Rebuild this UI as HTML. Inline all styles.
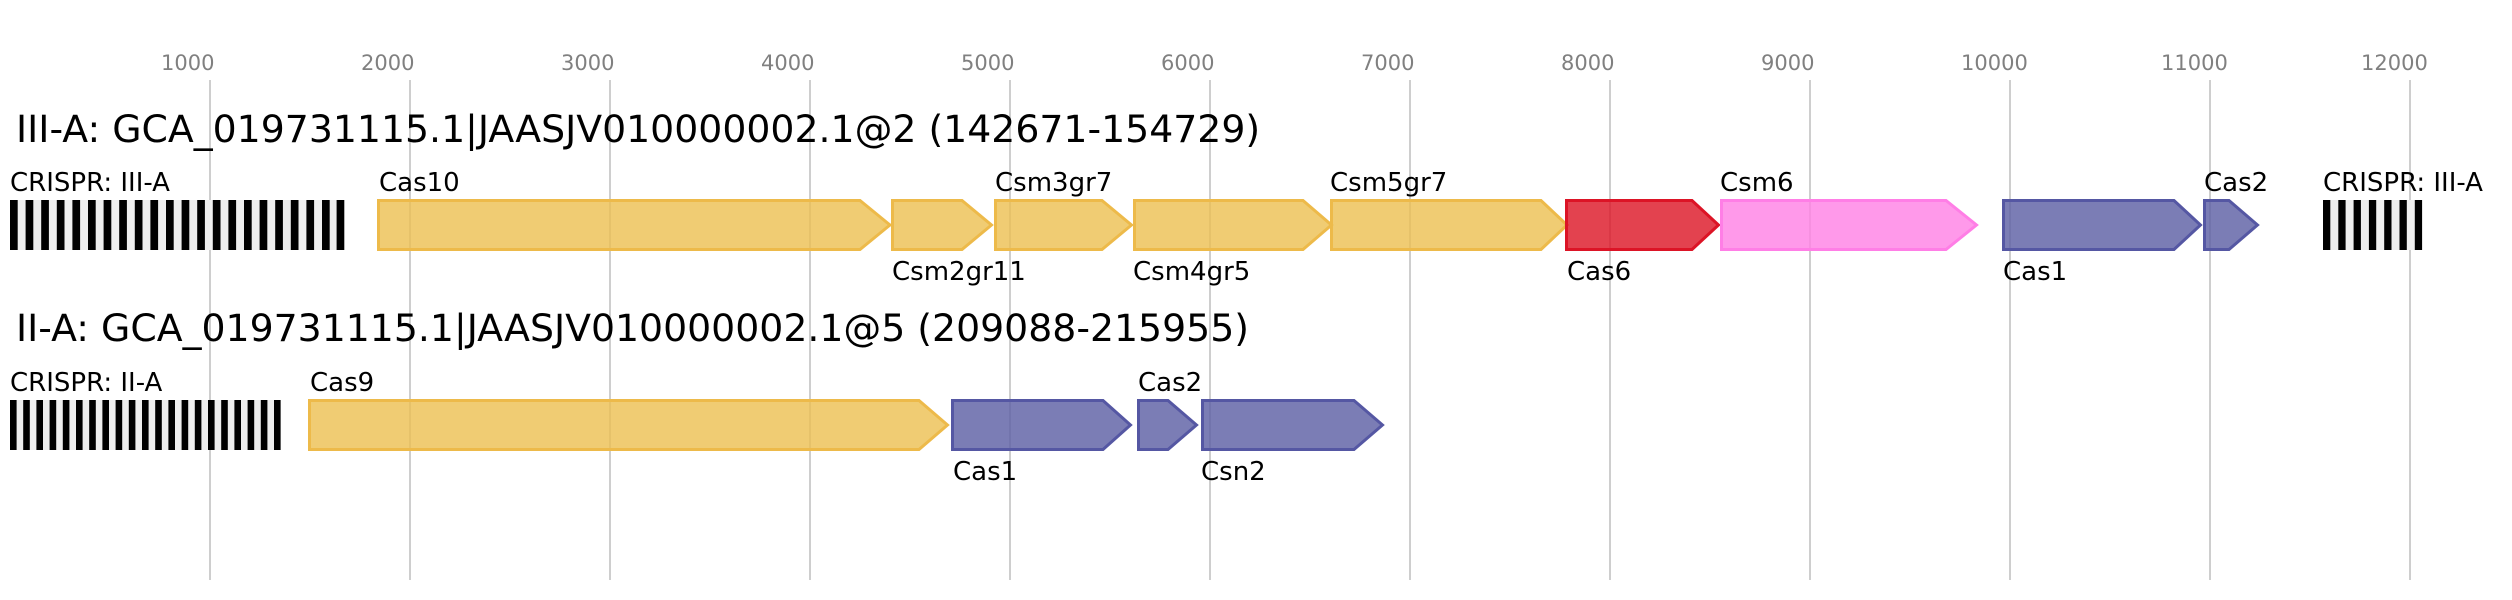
<!DOCTYPE html>
<html><head><meta charset="utf-8"><style>html,body{margin:0;padding:0;background:#fff}svg{display:block}</style></head><body>
<svg width="2512" height="600" viewBox="0 0 2512 600" xmlns="http://www.w3.org/2000/svg" font-family="DejaVu Sans, Liberation Sans, sans-serif">
<g stroke="#bdbdbd" stroke-width="1.5">
<line x1="210" y1="80" x2="210" y2="580"/><line x1="410" y1="80" x2="410" y2="580"/><line x1="610" y1="80" x2="610" y2="580"/><line x1="810" y1="80" x2="810" y2="580"/><line x1="1010" y1="80" x2="1010" y2="580"/><line x1="1210" y1="80" x2="1210" y2="580"/><line x1="1410" y1="80" x2="1410" y2="580"/><line x1="1610" y1="80" x2="1610" y2="580"/><line x1="1810" y1="80" x2="1810" y2="580"/><line x1="2010" y1="80" x2="2010" y2="580"/><line x1="2210" y1="80" x2="2210" y2="580"/><line x1="2410" y1="80" x2="2410" y2="580"/>
</g>
<g fill="#808080" font-size="21">
<text x="161" y="70">1000</text><text x="361" y="70">2000</text><text x="561" y="70">3000</text><text x="761" y="70">4000</text><text x="961" y="70">5000</text><text x="1161" y="70">6000</text><text x="1361" y="70">7000</text><text x="1561" y="70">8000</text><text x="1761" y="70">9000</text><text x="1961" y="70">10000</text><text x="2161" y="70">11000</text><text x="2361" y="70">12000</text>
</g>
<g fill="#000" font-size="37.8">
<text x="16" y="142">III-A: GCA_019731115.1|JAASJV010000002.1@2 (142671-154729)</text>
<text x="16" y="341">II-A: GCA_019731115.1|JAASJV010000002.1@5 (209088-215955)</text>
</g>
<g fill="#000" font-size="26">
<text x="10" y="191">CRISPR: III-A</text>
<text x="379" y="191">Cas10</text>
<text x="995" y="191">Csm3gr7</text>
<text x="1330" y="191">Csm5gr7</text>
<text x="1720" y="191">Csm6</text>
<text x="2204" y="191">Cas2</text>
<text x="2323" y="191">CRISPR: III-A</text>
<text x="892" y="280">Csm2gr11</text>
<text x="1133" y="280">Csm4gr5</text>
<text x="1567" y="280">Cas6</text>
<text x="2003" y="280">Cas1</text>
<text x="10" y="391">CRISPR: II-A</text>
<text x="310" y="391">Cas9</text>
<text x="1138" y="391">Cas2</text>
<text x="953" y="480">Cas1</text>
<text x="1201" y="480">Csn2</text>
</g>
<rect x="10" y="200" width="334" height="50" fill="#eeeeee"/>
<g fill="#000">
<rect x="10" y="200" width="7.7" height="50"/><rect x="25.6" y="200" width="7.7" height="50"/><rect x="41.2" y="200" width="7.7" height="50"/><rect x="56.8" y="200" width="7.7" height="50"/><rect x="72.4" y="200" width="7.7" height="50"/><rect x="88" y="200" width="7.7" height="50"/><rect x="103.6" y="200" width="7.7" height="50"/><rect x="119.2" y="200" width="7.7" height="50"/><rect x="134.8" y="200" width="7.7" height="50"/><rect x="150.4" y="200" width="7.7" height="50"/><rect x="166" y="200" width="7.7" height="50"/><rect x="181.6" y="200" width="7.7" height="50"/><rect x="197.2" y="200" width="7.7" height="50"/><rect x="212.8" y="200" width="7.7" height="50"/><rect x="228.4" y="200" width="7.7" height="50"/><rect x="244" y="200" width="7.7" height="50"/><rect x="259.6" y="200" width="7.7" height="50"/><rect x="275.2" y="200" width="7.7" height="50"/><rect x="290.8" y="200" width="7.7" height="50"/><rect x="306.4" y="200" width="7.7" height="50"/><rect x="322" y="200" width="7.7" height="50"/><rect x="336.6" y="200" width="7.7" height="50"/>
</g>
<rect x="2323" y="200" width="99" height="50" fill="#eeeeee"/>
<g fill="#000">
<rect x="2323" y="200" width="7.3" height="50"/><rect x="2338.3" y="200" width="7.3" height="50"/><rect x="2353.6" y="200" width="7.3" height="50"/><rect x="2368.9" y="200" width="7.3" height="50"/><rect x="2384.2" y="200" width="7.3" height="50"/><rect x="2399.5" y="200" width="7.3" height="50"/><rect x="2414.8" y="200" width="7.3" height="50"/>
</g>
<rect x="10" y="400" width="271" height="50" fill="#eeeeee"/>
<g fill="#000">
<rect x="10" y="400" width="6.6" height="50"/><rect x="23.2" y="400" width="6.6" height="50"/><rect x="36.4" y="400" width="6.6" height="50"/><rect x="49.6" y="400" width="6.6" height="50"/><rect x="62.8" y="400" width="6.6" height="50"/><rect x="76" y="400" width="6.6" height="50"/><rect x="89.2" y="400" width="6.6" height="50"/><rect x="102.4" y="400" width="6.6" height="50"/><rect x="115.6" y="400" width="6.6" height="50"/><rect x="128.8" y="400" width="6.6" height="50"/><rect x="142" y="400" width="6.6" height="50"/><rect x="155.2" y="400" width="6.6" height="50"/><rect x="168.4" y="400" width="6.6" height="50"/><rect x="181.6" y="400" width="6.6" height="50"/><rect x="194.8" y="400" width="6.6" height="50"/><rect x="208" y="400" width="6.6" height="50"/><rect x="221.2" y="400" width="6.6" height="50"/><rect x="234.4" y="400" width="6.6" height="50"/><rect x="247.6" y="400" width="6.6" height="50"/><rect x="260.8" y="400" width="6.6" height="50"/><rect x="274" y="400" width="6.6" height="50"/>
</g>
<g stroke-width="3" stroke-linejoin="miter">
<g fill="rgba(236,191,80,0.8)" stroke="#edba4a">
<polygon points="378.5,200.5 860,200.5 890,225 860,249.5 378.5,249.5"/>
<polygon points="892.5,200.5 962,200.5 991.5,225 962,249.5 892.5,249.5"/>
<polygon points="995.5,200.5 1102,200.5 1131.5,225 1102,249.5 995.5,249.5"/>
<polygon points="1134.5,200.5 1303,200.5 1331.5,225 1303,249.5 1134.5,249.5"/>
<polygon points="1331.5,200.5 1541,200.5 1567,225 1541,249.5 1331.5,249.5"/>
</g>
<polygon fill="rgba(220,19,35,0.8)" stroke="#dc1426" points="1566.5,200.5 1692,200.5 1718.5,225 1692,249.5 1566.5,249.5"/>
<polygon fill="rgba(255,128,229,0.8)" stroke="#ff7ee6" points="1721.5,200.5 1946,200.5 1976.5,225 1946,249.5 1721.5,249.5"/>
<g fill="rgba(90,93,162,0.8)" stroke="#5557a3">
<polygon points="2003.5,200.5 2174,200.5 2200.5,225 2174,249.5 2003.5,249.5"/>
<polygon points="2204.5,200.5 2229,200.5 2257.5,225 2229,249.5 2204.5,249.5"/>
</g>
<polygon fill="rgba(236,191,80,0.8)" stroke="#edba4a" points="309.5,400.5 919,400.5 947.5,425 919,449.5 309.5,449.5"/>
<g fill="rgba(90,93,162,0.8)" stroke="#5557a3">
<polygon points="952.5,400.5 1103,400.5 1130.5,425 1103,449.5 952.5,449.5"/>
<polygon points="1138.5,400.5 1168,400.5 1196.5,425 1168,449.5 1138.5,449.5"/>
<polygon points="1202.5,400.5 1354,400.5 1382.5,425 1354,449.5 1202.5,449.5"/>
</g>
</g>
</svg>
</body></html>
